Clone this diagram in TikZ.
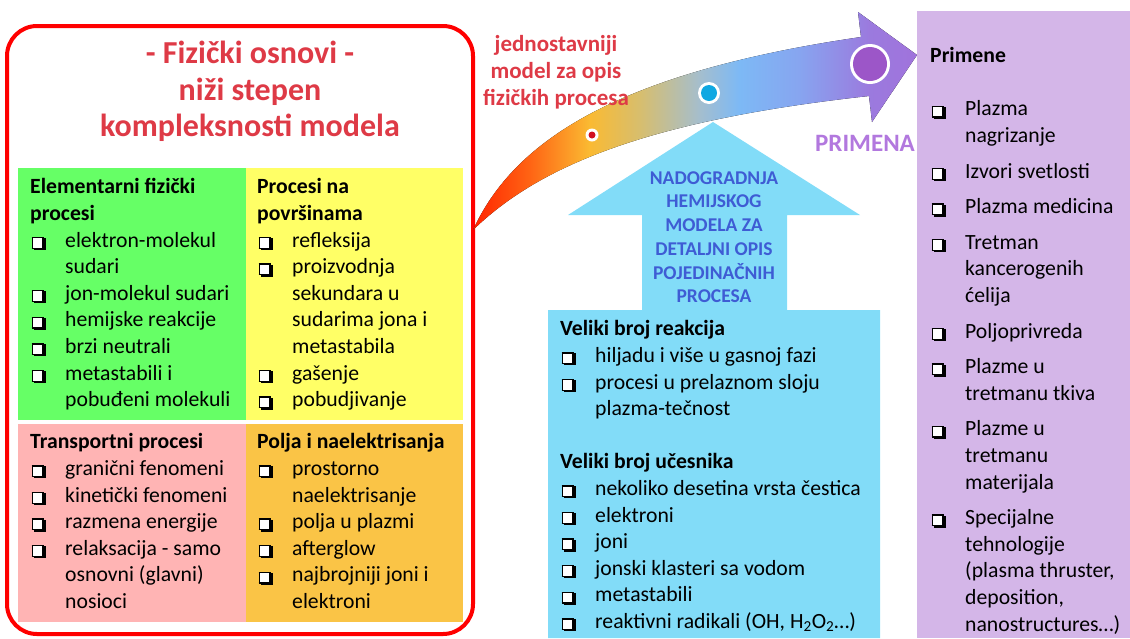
\documentclass[tikz,border=0pt]{standalone}
\usepackage{fontspec}
\setmainfont{Carlito}
\usepackage{tikz}
\usetikzlibrary{positioning}
\definecolor{frame}{RGB}{255,0,0}
\definecolor{qgreen}{RGB}{102,255,102}
\definecolor{qyellow}{RGB}{255,255,102}
\definecolor{qpink}{RGB}{255,180,180}
\definecolor{qorange}{RGB}{250,196,70}
\definecolor{skyblue}{RGB}{130,220,248}
\definecolor{lavender}{RGB}{212,182,232}
\definecolor{titlered}{RGB}{222,58,70}
\definecolor{upblue}{RGB}{62,92,212}
\definecolor{primviolet}{RGB}{178,120,222}
\definecolor{dotred}{RGB}{210,16,32}
\definecolor{dotblue}{RGB}{16,168,226}
\definecolor{dotviolet}{RGB}{156,86,200}
\definecolor{fs0}{RGB}{255,36,0}
\definecolor{fs1}{RGB}{255,100,20}
\definecolor{fs2}{RGB}{250,186,50}
\definecolor{fs3}{RGB}{215,190,110}
\definecolor{fs4}{RGB}{165,190,205}
\definecolor{fs5}{RGB}{125,185,245}
\definecolor{fs6}{RGB}{135,165,240}
\definecolor{fs7}{RGB}{155,122,222}
\definecolor{fs8}{RGB}{160,115,220}
\pgfdeclarehorizontalshading{flowshade}{100bp}{color(0bp)=(fs0); color(25bp)=(fs0); color(31.4bp)=(fs1); color(38.1bp)=(fs2); color(43.8bp)=(fs3); color(50.5bp)=(fs4); color(55bp)=(fs5); color(61.7bp)=(fs6); color(69.6bp)=(fs7); color(75bp)=(fs8); color(100bp)=(fs8)}
\tikzset{body/.style={font=\fontsize{21.7}{26.6}\selectfont,align=left,inner sep=0pt,anchor=north west},
  title/.style={font=\fontsize{32}{36.5}\selectfont\bfseries,text=titlered,align=center,inner sep=0pt},
  redtxt/.style={font=\fontsize{23}{27}\selectfont\bfseries,text=titlered,align=center,inner sep=0pt},
  uptxt/.style={font=\fontsize{19.5}{23.7}\selectfont\bfseries,text=upblue,align=center,inner sep=0pt}}
\setlength\fboxsep{0pt}
\setlength\fboxrule{1.3pt}
\newlength\indw
\setlength\indw{35pt}
\newcommand\chkglyph{\raisebox{-0.5pt}{\rlap{\hspace{2.5pt}\raisebox{-2.5pt}{\rule{12pt}{12pt}}}\fcolorbox{black}{white}{\rule{0pt}{9.4pt}\hspace{9.4pt}}}}
\newcommand\chk{\makebox[\indw][l]{\hspace{1.5pt}\chkglyph}}
\newcommand\ind{\hspace*{\indw}}
\begin{document}
\begin{tikzpicture}[x=1pt,y=-1pt]
  \useasboundingbox (0,0) rectangle (1130,638);

  % quadrants + frame
  \fill[qgreen] (18,168) rectangle (246,420);
  \fill[qyellow] (246,168) rectangle (463,420);
  \fill[qpink] (18,424) rectangle (246,622);
  \fill[qorange] (246,424) rectangle (463,622);
  \draw[frame,line width=4pt,rounded corners=30pt] (7,26) rectangle (473,634);

  \node (title) [title,anchor=north] at (250,38) {\strut- Fizički osnovi -\\niži stepen\\kompleksnosti modela};

  \node (elem) [body] at (30,175) {\strut\textbf{Elementarni fizički}\\\textbf{procesi}\\
    \chk elektron-molekul\\\ind sudari\\\chk jon-molekul sudari\\\chk hemijske reakcije\\
    \chk brzi neutrali\\\chk metastabili i\\\ind pobuđeni molekuli};
  \node (surf) [body] at (257,175) {\strut\textbf{Procesi na}\\\textbf{površinama}\\
    \chk refleksija\\\chk proizvodnja\\\ind sekundara u\\\ind sudarima jona i\\\ind metastabila\\
    \chk gašenje\\\chk pobudjivanje};
  \node (trans) [body] at (30,430) {\strut\textbf{Transportni procesi}\\
    \chk granični fenomeni\\\chk kinetički fenomeni\\\chk razmena energije\\
    \chk relaksacija - samo\\\ind osnovni (glavni)\\\ind nosioci};
  \node (fields) [body] at (257,430) {\strut\textbf{Polja i naelektrisanja}\\
    \chk prostorno\\\ind naelektrisanje\\\chk polja u plazmi\\\chk afterglow\\
    \chk najbrojniji joni i\\\ind elektroni};

  % curved arrow
  \fill[shading=flowshade,shading angle=0] (473,230) .. controls (510,150) and (600,75) .. (861,37)
    -- (858,12) -- (917,55) -- (872,122) -- (869,96) .. controls (650,120) and (540,165) .. (473,230) -- cycle;
  \foreach \cx/\cy/\ro/\ri/\col in {592/135/6.5/3.5/dotred, 709/93/11/8/dotblue, 870/64/20/17/dotviolet}
    {\fill[white] (\cx,\cy) circle (\ro pt);
     \fill[\col] (\cx,\cy) circle (\ri pt);}

  \node (simpler) [redtxt,anchor=north] at (556,32) {\strut jednostavniji\\model za opis\\fizičkih procesa};
  \node (primena) [font=\fontsize{25}{30}\selectfont\bfseries,text=primviolet,inner sep=0pt,anchor=base] at (865,151) {PRIMENA};

  % up arrow + box
  \fill[skyblue] (548,638) -- (548,310) -- (642,310) -- (642,215) -- (568,215) -- (713,122) -- (860,215)
    -- (787,215) -- (787,310) -- (880,310) -- (880,638) -- cycle;
  \node (upgrade) [uptxt,anchor=north] at (714,167.5) {\strut NADOGRADNJA\\HEMIJSKOG\\MODELA ZA\\DETALJNI OPIS\\POJEDINAČNIH\\PROCESA};
  \node (many) [body] at (560,317) {\strut\textbf{Veliki broj reakcija}\\
    \chk hiljadu i više u gasnoj fazi\\\chk procesi u prelaznom sloju\\\ind plazma-tečnost\\[26.6pt]
    \textbf{Veliki broj učesnika}\\
    \chk nekoliko desetina vrsta čestica\\\chk elektroni\\\chk joni\\\chk jonski klasteri sa vodom\\
    \chk metastabili\\\chk reaktivni radikali (OH, H\textsubscript{2}O\textsubscript{2}…)};

  % applications
  \fill[lavender] (917,11) rectangle (1130,638);
  \node (apps) [body] at (930,44) {\strut\textbf{Primene}\\[26.4pt]
    \chk Plazma\\\ind nagrizanje\\[9pt]
    \chk Izvori svetlosti\\[9pt]
    \chk Plazma medicina\\[9pt]
    \chk Tretman\\\ind kancerogenih\\\ind ćelija\\[9pt]
    \chk Poljoprivreda\\[9pt]
    \chk Plazme u\\\ind tretmanu tkiva\\[9pt]
    \chk Plazme u\\\ind tretmanu\\\ind materijala\\[9pt]
    \chk Specijalne\\\ind tehnologije\\\ind (plasma thruster,\\\ind deposition,\\\ind nanostructures…)};
\end{tikzpicture}
\end{document}
